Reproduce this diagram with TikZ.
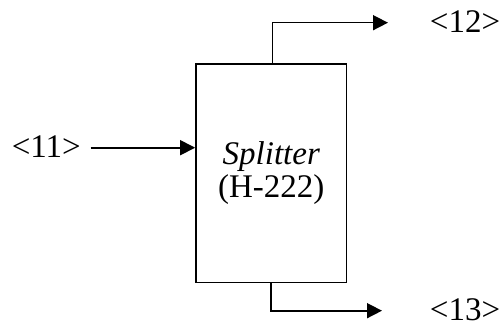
\documentclass[tikz,border=0pt]{standalone}
\usepackage{fontspec}
\setmainfont{Liberation Serif}
\usetikzlibrary{arrows.meta}
\begin{document}
\begin{tikzpicture}[x=1pt,y=-1pt,
  flow/.style={line width=1.6pt,-{Triangle[length=15pt,width=15pt]}},
  lbl/.style={inner sep=0pt,anchor=base,font=\fontsize{33}{38}\selectfont},
  unit/.style={draw,line width=1.6pt,minimum width=150.7pt,minimum height=218.7pt,inner sep=0pt,align=center,font=\fontsize{33}{33}\selectfont}]
\useasboundingbox (0,0) rectangle (501,329);
\node[lbl] (l11) at (46.3,157) {<11>};
\node[lbl] (l12) at (465,33) {<12>};
\node[lbl] (l13) at (465,320) {<13>};
\node[unit] (sp) at (271.3,173.3) {\textit{Splitter}\\(H-222)};
\coordinate (a11) at (90.7,147.7);
\coordinate (t1) at (272.3,22.7);
\coordinate (t2) at (388,22.7);
\coordinate (b1) at (270.7,310.7);
\coordinate (b2) at (382,310.7);
\draw[flow] (a11) -- (sp.west |- a11);
\draw[flow] (sp.north -| t1) -- (t1) -- (t2);
\draw[flow] (sp.south -| b1) -- (b1) -- (b2);
\end{tikzpicture}
\end{document}
